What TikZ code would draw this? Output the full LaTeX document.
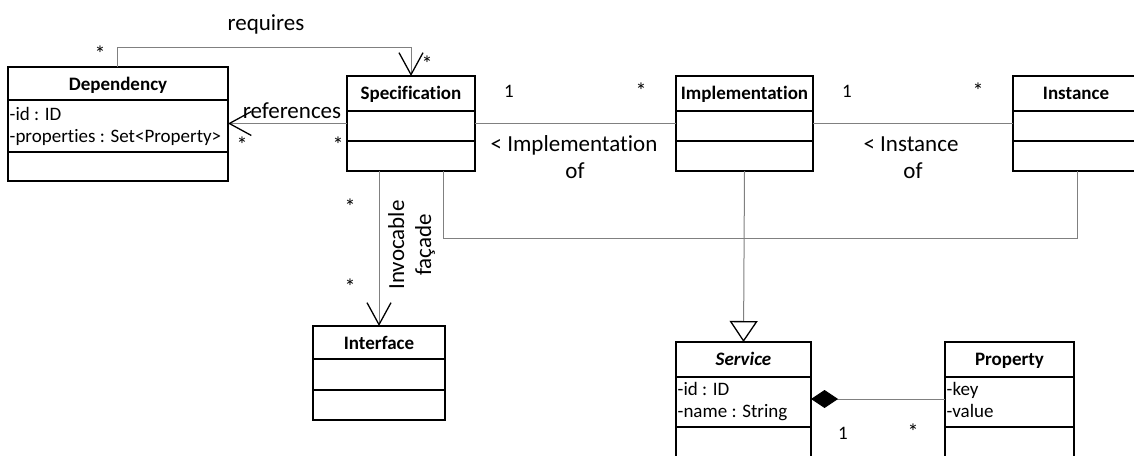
\documentclass[tikz,border=0pt]{standalone}
\usepackage{fontspec}
\setmainfont{Carlito}[Ligatures=NoCommon]
\usetikzlibrary{arrows.meta,calc}
\definecolor{connc}{RGB}{128,128,128}
\tikzset{
  box/.style={draw=black, line width=1.5pt, rectangle, inner sep=0pt, outer sep=0pt, anchor=north west},
  divider/.style={draw=black, line width=1.5pt},
  conn/.style={draw=connc, line width=1pt},
  ttl/.style={font=\bfseries\fontsize{19}{23}\selectfont, anchor=base, inner sep=0pt},
  attr/.style={font=\fontsize{19}{23}\selectfont, anchor=base west, inner sep=0pt},
  mult/.style={font=\fontsize{19}{24}\selectfont, anchor=base, inner sep=0pt},
  star/.style={font=\fontsize{22}{24}\selectfont, anchor=base, inner sep=0pt},
  lbl/.style={font=\fontsize{23}{28}\selectfont, anchor=base, inner sep=0pt},
  openv/.tip={Straight Barb[length=22pt,width=24pt,line width=1.3pt,color=black]},
}
\newcommand\umlclass[8]{%
  \node[box, minimum width=#4pt, minimum height=#5pt] (#1) at (#2,#3) {};
  \draw[divider] ($(#1.north west)+(0,#6)$) -- ($(#1.north east)+(0,#6)$);
  \draw[divider] ($(#1.north west)+(0,#7)$) -- ($(#1.north east)+(0,#7)$);
  \node[ttl] (#1-t) at ($(#1.north)+(0,23)$) {#8};
}
\begin{document}
\begin{tikzpicture}[x=1pt,y=-1pt]
\useasboundingbox (0,0) rectangle (1134,455);
\clip (0,0) rectangle (1134,455);
\fill[white] (0,0) rectangle (1134,455);

\umlclass{dep}{8}{67}{220}{114}{33}{85}{Dependency}
\umlclass{spec}{347}{76}{128}{95}{35}{65}{Specification}
\umlclass{impl}{676}{76}{137}{95}{35}{65}{Implementation}
\umlclass{inst}{1013}{76}{126}{95}{35}{65}{Instance}
\umlclass{intf}{313}{326}{132}{94}{33}{64}{Interface}
\umlclass{serv}{676}{342}{135}{135}{35}{85}{\itshape Service}
\umlclass{prop}{945}{342}{129}{135}{35}{85}{Property}

% attributes
\node[attr] (dep-a1) at ($(dep.north west)+(1.5,53)$) {-id : ID};
\node[attr] (dep-a2) at ($(dep.north west)+(1.5,75)$) {-properties : Set<Property>};
\node[attr] (serv-a1) at ($(serv.north west)+(1.5,53)$) {-id : ID};
\node[attr] (serv-a2) at ($(serv.north west)+(1.5,75)$) {-name : String};
\node[attr] (prop-a1) at ($(prop.north west)+(1.5,53)$) {-key};
\node[attr] (prop-a2) at ($(prop.north west)+(1.5,75)$) {-value};

% connectors
\draw[conn,-{openv}] ($(dep.north west)+(109,0)$) -- ++(0,-20) -| ($(spec.north west)+(64,0)$);
\draw[conn,-{openv}] (spec.west) -- (spec.west -| dep.east);
\draw[conn] (spec.east) -- (impl.west);
\draw[conn] (impl.east) -- (inst.west);
\draw[conn] ($(spec.south west)+(96,0)$) -- ++(0,67) -| ($(inst.south west)+(64,0)$);
\draw[conn,-{Triangle[open,fill=white,length=21pt,width=28pt,line width=1.3pt,color=black]}] (impl.south) -- (serv.north);
\draw[conn,-{openv}] ($(spec.south west)+(32,0)$) -- (intf.north);
\draw[conn,{Diamond[length=27pt,width=18pt,color=black]}-] ($(serv.north east)+(0,57)$) -- ($(prop.north west)+(0,57)$);

% labels
\node[lbl] (l-req) at (266,30) {requires};
\node[lbl] (l-ref) at (292,118) {references};
\node[lbl] (l-impl1) at (574,151) {< Implementation};
\node[lbl] (l-impl2) at (575,178) {of};
\node[lbl] (l-inst1) at (911,151) {< Instance};
\node[lbl] (l-inst2) at (913,178) {of};
\node[lbl, rotate=90] (l-inv1) at (404,245) {Invocable};
\node[lbl, rotate=90] (l-inv2) at (431,245) {façade};

% multiplicities
\node[star] (m1) at (100,61) {*};
\node[star] (m2) at (427,71) {*};
\node[star] (m3) at (242,152) {*};
\node[star] (m4) at (338,152) {*};
\node[mult] (m5) at (509,97) {1};
\node[star] (m6) at (641,98) {*};
\node[mult] (m7) at (847,97) {1};
\node[star] (m8) at (978,98) {*};
\node[star] (m9) at (350,214) {*};
\node[star] (m10) at (350,294) {*};
\node[mult] (m11) at (843,439) {1};
\node[star] (m12) at (913,439) {*};
\end{tikzpicture}
\end{document}
